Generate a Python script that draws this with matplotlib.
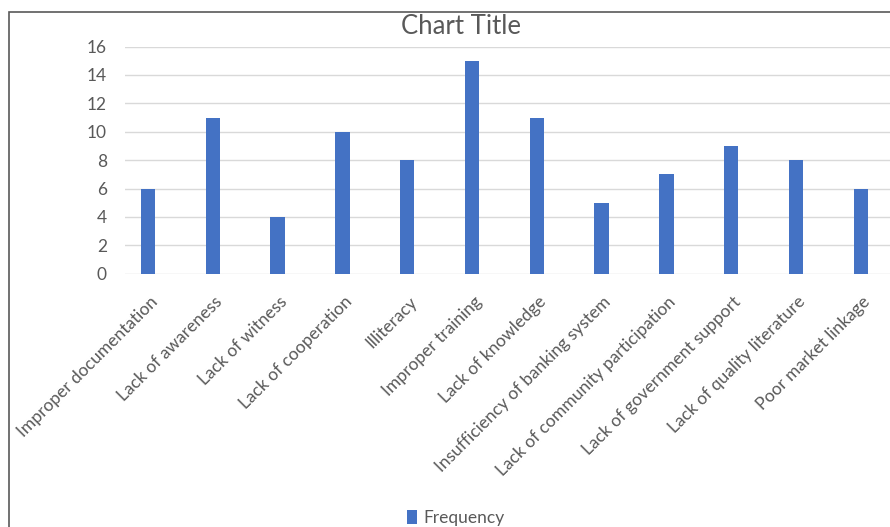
import matplotlib.pyplot as plt
import matplotlib as mtpl
from matplotlib.patches import Rectangle
from matplotlib.transforms import ScaledTranslation
import numpy as np

categories = ['Improper documentation', 'Lack of awareness', 'Lack of witness',
              'Lack of cooperation', 'Illiteracy', 'Improper training',
              'Lack of knowledge', 'Insufficiency of banking system',
              'Lack of community participation', 'Lack of government support',
              'Lack of quality literature', 'Poor market linkage']
frequency = [6, 11, 4, 10, 8, 15, 11, 5, 7, 9, 8, 6]
y_ticks = [0, 2, 4, 6, 8, 10, 12, 14, 16]

mtpl.rcParams['font.family'] = ['Lato', 'DejaVu Sans']
text_col = '#595959'
bar_col = '#4472c4'

fig = plt.figure(figsize=(8.9, 5.27), dpi=100)
ax = fig.add_axes([125 / 890, 253.3 / 527, 1 - 125 / 890, 227.2 / 527])

x = np.arange(len(categories))
ax.bar(x, frequency, width=0.22, color=bar_col, label='Frequency', zorder=3)

ax.set_xlim(-0.355, 11.45)
ax.set_ylim(0, 16)
ax.set_yticks(y_ticks)
ax.set_yticklabels([str(v) for v in y_ticks])
ax.yaxis.grid(True, color='#d9d9d9', linewidth=1)
ax.set_axisbelow(True)
for s in ax.spines.values():
    s.set_visible(False)
ax.tick_params(axis='both', length=0, colors=text_col, labelsize=12.5)
ax.tick_params(axis='y', pad=13)

ax.set_xticks(x)
ax.set_xticklabels(categories, rotation=45, ha='right', va='center',
                   rotation_mode='anchor', fontsize=12.5, color=text_col)
ax.tick_params(axis='x', pad=14)
# nudge rotated labels so their ends sit right of the bar, like Excel
shift = ScaledTranslation(7 / 100, -6 / 100, fig.dpi_scale_trans)
for lbl in ax.get_xticklabels():
    lbl.set_transform(lbl.get_transform() + shift)

fig.text(461 / 890, 1 - 27 / 527, 'Chart Title', ha='center', va='center',
         fontsize=18.5, color=text_col)

fig.legend(loc='center', bbox_to_anchor=(456 / 890, 1 - 518 / 527),
           frameon=False, fontsize=12.5, labelcolor=text_col, handlelength=0.55,
           handleheight=0.9, handletextpad=0.4)

# outer chart frame (cropped on the right and bottom)
fig.patches.append(Rectangle((8.5 / 890, -0.1), 1.2, 1 - 12 / 527 + 0.1,
                             transform=fig.transFigure, fill=False,
                             edgecolor='#595959', linewidth=1.2))

plt.savefig('out.png', dpi=100)
